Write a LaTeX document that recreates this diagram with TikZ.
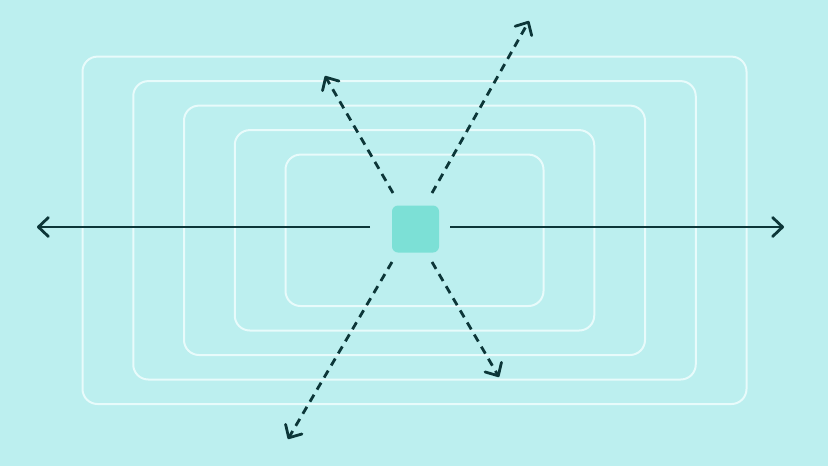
\documentclass[tikz,border=0pt]{standalone}
\usepackage{tikz}
\usetikzlibrary{
arrows.meta,
backgrounds,
positioning,
calc
}
\definecolor{bgcyan}{RGB}{188,239,239}
\definecolor{ringwhite}{RGB}{232,251,251}
\definecolor{corecyan}{RGB}{124,224,214}
\definecolor{inkdark}{RGB}{12,54,56}
\tikzset{
  ring/.style={draw=ringwhite,line width=2pt,rounded corners=15pt},
  core/.style={fill=corecyan,rounded corners=6pt,minimum size=47pt,inner sep=0pt},
  chev/.style={-{Straight Barb[length=10pt,width=19pt,line cap=round,line join=round]}},
  ray/.style={draw=inkdark,line width=2.8pt,chev},
  dashray/.style={ray,dash pattern=on 8pt off 6pt}
}
\begin{document}
\begin{tikzpicture}[x=1pt,y=-1pt]
      \fill[bgcyan] (0,0) rectangle (828,466);
      \useasboundingbox (0,0) rectangle (828,466);

      % nested frames
      \foreach \i in {0,...,4}
        \draw[ring] ({414.5-332+50.75*\i},{230.3-173.7+24.5*\i})
                 rectangle ({414.5+332-50.75*\i},{230.3+173.7-24.5*\i});

      \node[core] (sq) at (415.5,229) {};

      \coordinate (l0) at (370,227);  \coordinate (l1) at (37,227);
      \coordinate (r0) at (450,227);  \coordinate (r1) at (784,227);
      \coordinate (ul0) at (393,193); \coordinate (ul1) at (325,76);
      \coordinate (ur0) at (432,193); \coordinate (ur1) at (529,21);
      \coordinate (ll0) at (392,262); \coordinate (ll1) at (288,439);
      \coordinate (lr0) at (432,262); \coordinate (lr1) at (499,377);

      \path (l0) edge[ray] (l1);
      \path (r0) edge[ray] (r1);

      \path (ul0) edge[dashray] (ul1);
      \path (ur0) edge[dashray] (ur1);
      \path (ll0) edge[dashray] (ll1);
      \path (lr0) edge[dashray] (lr1);
\end{tikzpicture}
\end{document}
